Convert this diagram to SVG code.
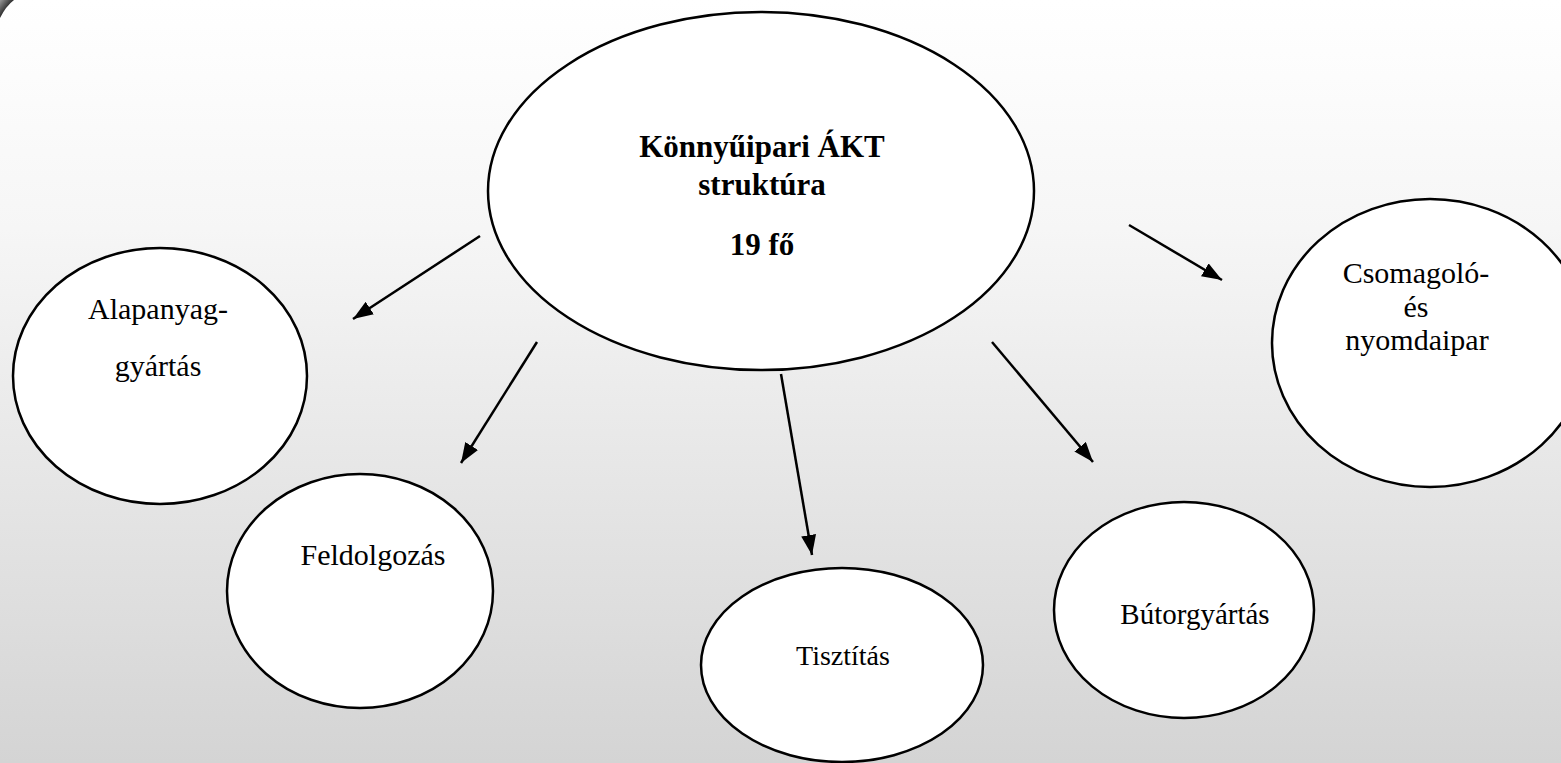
<svg xmlns="http://www.w3.org/2000/svg" width="1561" height="763" viewBox="0 0 1561 763">
<defs>
<linearGradient id="bg" x1="0" y1="0" x2="0" y2="1">
<stop offset="0" stop-color="#ffffff"/>
<stop offset="0.3" stop-color="#f6f6f6"/>
<stop offset="1" stop-color="#d4d4d4"/>
</linearGradient>
<linearGradient id="curl" x1="0" y1="0" x2="1" y2="1">
<stop offset="0" stop-color="#9a9a9a"/>
<stop offset="0.5" stop-color="#2a2a2a"/>
<stop offset="1" stop-color="#cfcfcf"/>
</linearGradient>
<marker id="arr" markerWidth="8" markerHeight="6" refX="8" refY="3" orient="auto" markerUnits="strokeWidth">
<path d="M0,0 L8,3 L0,6 Z" fill="#000"/>
</marker>
<style>
.node{fill:#fff;stroke:#000;stroke-width:2.5}
.lbl{font-family:"Liberation Serif","Times New Roman",serif;font-size:30px;fill:#000;text-anchor:middle}
.b{font-weight:bold;font-size:31px}
.con{stroke:#000;stroke-width:2.5;fill:none;marker-end:url(#arr)}
</style>
</defs>
<rect x="0" y="0" width="1561" height="763" fill="url(#bg)"/>
<path d="M0,0 L14,0 Q6,6 0,18 Z" fill="url(#curl)"/>
<g id="connectors">
<line class="con" x1="480" y1="236" x2="353" y2="319"/>
<line class="con" x1="537" y1="342" x2="461" y2="463"/>
<line class="con" x1="781" y1="374" x2="812" y2="555"/>
<line class="con" x1="992" y1="342" x2="1093" y2="462"/>
<line class="con" x1="1129" y1="225" x2="1222" y2="280"/>
</g>
<g id="center">
<ellipse class="node" cx="761" cy="191" rx="273" ry="179"/>
<text class="lbl b" x="762" y="157">Könnyűipari ÁKT</text>
<text class="lbl b" x="762" y="195">struktúra</text>
<text class="lbl b" x="762" y="255">19 fő</text>
</g>
<g id="alapanyag">
<ellipse class="node" cx="160" cy="376" rx="147" ry="128"/>
<text class="lbl" x="158" y="319">Alapanyag-</text>
<text class="lbl" x="158" y="376">gyártás</text>
</g>
<g id="feldolgozas">
<ellipse class="node" cx="360" cy="591" rx="133" ry="117"/>
<text class="lbl" x="373" y="565">Feldolgozás</text>
</g>
<g id="tisztitas">
<ellipse class="node" cx="842" cy="665" rx="141" ry="97"/>
<text class="lbl" x="843" y="665" style="font-size:28px">Tisztítás</text>
</g>
<g id="butorgyartas">
<ellipse class="node" cx="1184" cy="610" rx="130" ry="108"/>
<text class="lbl" x="1195" y="624" style="font-size:29px">Bútorgyártás</text>
</g>
<g id="csomagolo">
<ellipse class="node" cx="1430" cy="343" rx="158" ry="144"/>
<text class="lbl" x="1416" y="283">Csomagoló-</text>
<text class="lbl" x="1416" y="317">és</text>
<text class="lbl" x="1417" y="350">nyomdaipar</text>
</g>
</svg>
